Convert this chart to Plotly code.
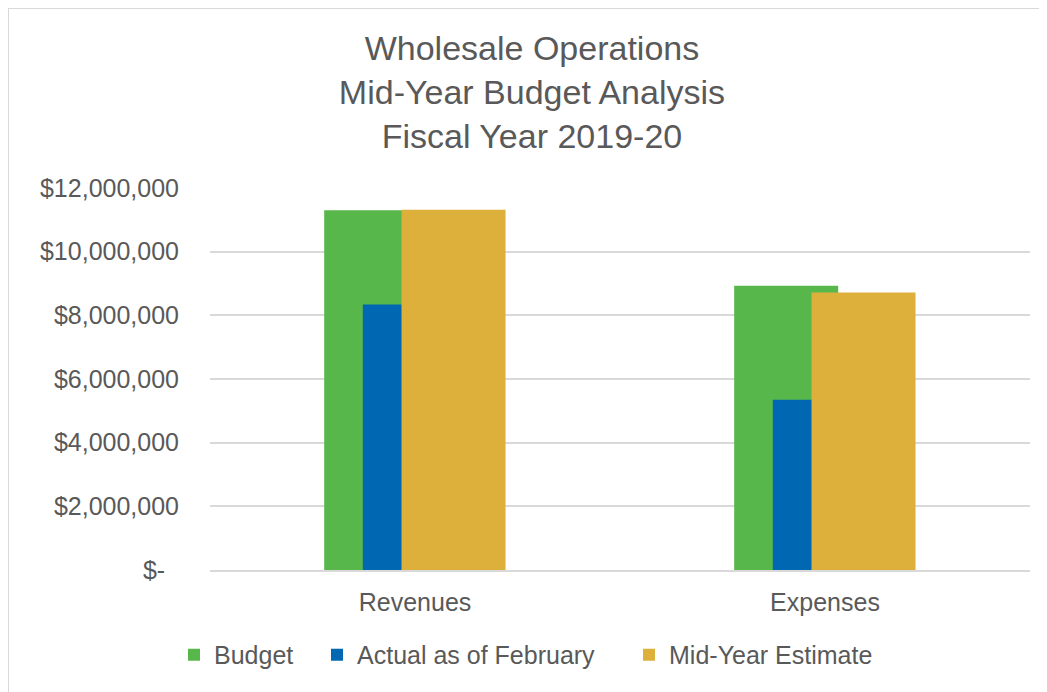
import plotly.graph_objects as go

categories = ["Revenues", "Expenses"]
budget = [11300000, 8930000]
actual_feb = [8340000, 5350000]
mid_year_estimate = [11320000, 8720000]

series_names = ["Budget", "Actual as of February", "Mid-Year Estimate"]
tick_values = [0, 2000000, 4000000, 6000000, 8000000, 10000000, 12000000]
tick_labels = ["$-\u00a0\u00a0", "$2,000,000", "$4,000,000", "$6,000,000",
               "$8,000,000", "$10,000,000", "$12,000,000"]

colors = ["#57B74A", "#0068B2", "#DDB03B"]
offsets = [-0.2215, -0.1273, -0.0329]
bar_width = 0.2537
legend_ids = ["legend", "legend2", "legend3"]
legend_x = [-0.0439, 0.1305, 0.511]
font_family = "Liberation Sans, Arial, sans-serif"
text_color = "#595959"

fig = go.Figure()
for name, vals, col, off, lid in zip(series_names, [budget, actual_feb, mid_year_estimate],
                                     colors, offsets, legend_ids):
    fig.add_trace(go.Bar(
        x=categories, y=vals, name=name, legend=lid,
        marker=dict(color=col, line=dict(width=0)),
        width=[bar_width] * len(categories),
        offset=[off] * len(categories),
    ))

legend_common = dict(orientation="h", xanchor="left", y=-0.2225, yanchor="middle",
                     font=dict(size=25, color=text_color), bgcolor="rgba(0,0,0,0)")

fig.update_layout(
    width=1039, height=684,
    barmode="overlay",
    plot_bgcolor="white", paper_bgcolor="white",
    margin=dict(l=202, r=17, t=180, b=122),
    font=dict(family=font_family, color=text_color),
    title=dict(
        text="Wholesale Operations<br>Mid-Year Budget Analysis<br>Fiscal Year 2019-20",
        x=0.5043, xanchor="center", y=1 - 52 / 684, yanchor="middle", yref="container",
        font=dict(size=34, color=text_color, family=font_family),
    ),
    legend=dict(x=legend_x[0], **legend_common),
    legend2=dict(x=legend_x[1], **legend_common),
    legend3=dict(x=legend_x[2], **legend_common),
    showlegend=True,
)
fig.update_yaxes(
    range=[0, 12000000], tickvals=tick_values, ticktext=tick_labels,
    showgrid=True, gridcolor="#D9D9D9", gridwidth=1.5,
    zeroline=False, showline=False,
    tickfont=dict(size=25, color=text_color), ticklabelstandoff=30,
)
fig.update_xaxes(
    showline=True, linecolor="#D9D9D9", linewidth=1.5,
    showgrid=False, tickfont=dict(size=25, color=text_color),
    ticklabelstandoff=9,
)
fig.add_shape(type="rect", xref="paper", yref="paper",
              x0=-202 / 820, x1=1.2, y0=-0.5, y1=1 + 180 / 382,
              line=dict(color="#D9D9D9", width=2), layer="below")

fig.write_html("out.html")
